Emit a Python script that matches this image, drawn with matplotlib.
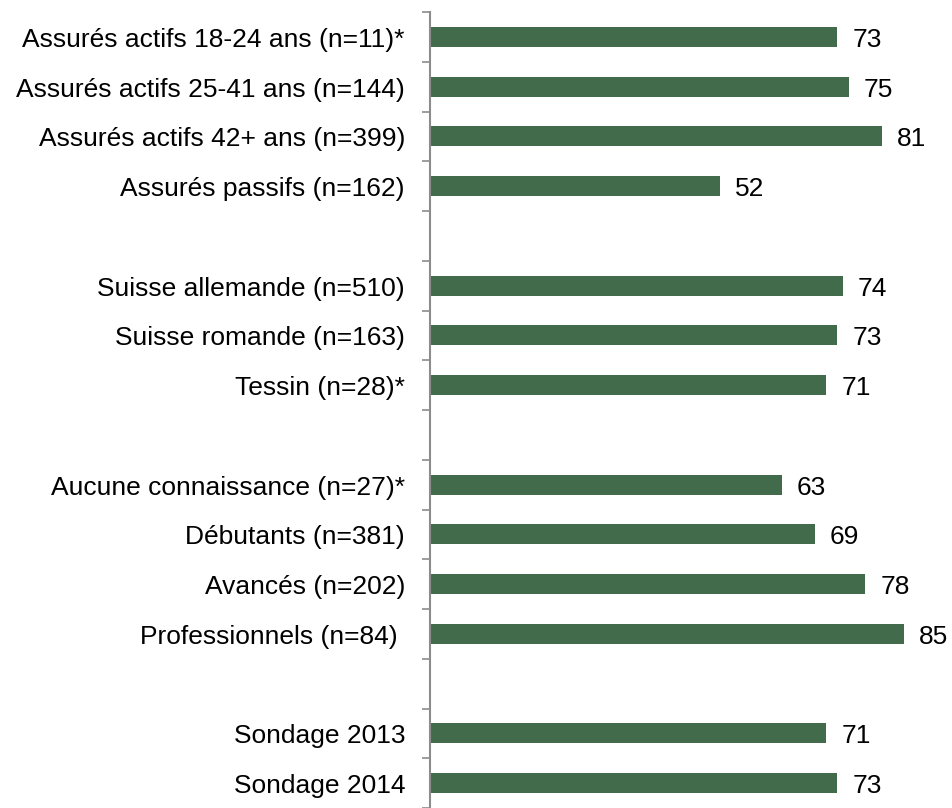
import numpy as np
import matplotlib.pyplot as plt
from matplotlib.transforms import blended_transform_factory, offset_copy

plt.rcParams['font.family'] = ['Liberation Sans', 'DejaVu Sans']

# categories (None = empty gap slot)
labels = [
    "Assurés actifs 18-24 ans (n=11)*",
    "Assurés actifs 25-41 ans (n=144)",
    "Assurés actifs 42+ ans (n=399)",
    "Assurés passifs (n=162)",
    None,
    "Suisse allemande (n=510)",
    "Suisse romande (n=163)",
    "Tessin (n=28)*",
    None,
    "Aucune connaissance (n=27)*",
    "Débutants (n=381)",
    "Avancés (n=202)",
    "Professionnels (n=84) ",
    None,
    "Sondage 2013",
    "Sondage 2014",
]
values = [73, 75, 81, 52, None, 74, 73, 71, None, 63, 69, 78, 85, None, 71, 73]

bar_color = "#426b4c"
axis_color = "#8c8c8c"
fs = 19

W, H = 952, 808
fig = plt.figure(figsize=(W / 100, H / 100), dpi=100)
# axes: left at x=430px, top at y=12px, runs off the bottom edge
ax = fig.add_axes([430 / W, 0, 1 - 430 / W, (H - 12) / H])

pos = np.arange(len(labels)) + 0.5
for p, v in zip(pos, values):
    if v is None:
        continue
    ax.barh(p, v, height=0.4, color=bar_color, linewidth=0)
    ax.annotate(str(v), (v, p), xytext=(15, -3), textcoords="offset pixels",
                ha="left", va="center", fontsize=fs, color="#000000")

# category labels right-aligned at ~x=405px
trans = offset_copy(blended_transform_factory(ax.transAxes, ax.transData),
                    fig=fig, x=-25, y=-3, units="dots")
for p, lab in zip(pos, labels):
    if lab is None:
        continue
    ax.text(0, p, lab, transform=trans, ha="right", va="center",
            fontsize=fs, color="#000000")

ax.set_xlim(0, (W - 430) / 5.58)
ax.set_ylim((H - 12) / 50, 0)

ax.set_yticks(np.arange(0, len(labels) + 1))
ax.set_yticklabels([])
ax.tick_params(axis="y", direction="out", length=6, width=1.2, color=axis_color)
ax.set_xticks([])

for s in ["top", "right", "bottom"]:
    ax.spines[s].set_visible(False)
ax.spines["left"].set_color(axis_color)
ax.spines["left"].set_linewidth(1.5)

fig.savefig("out.png", dpi=100)
